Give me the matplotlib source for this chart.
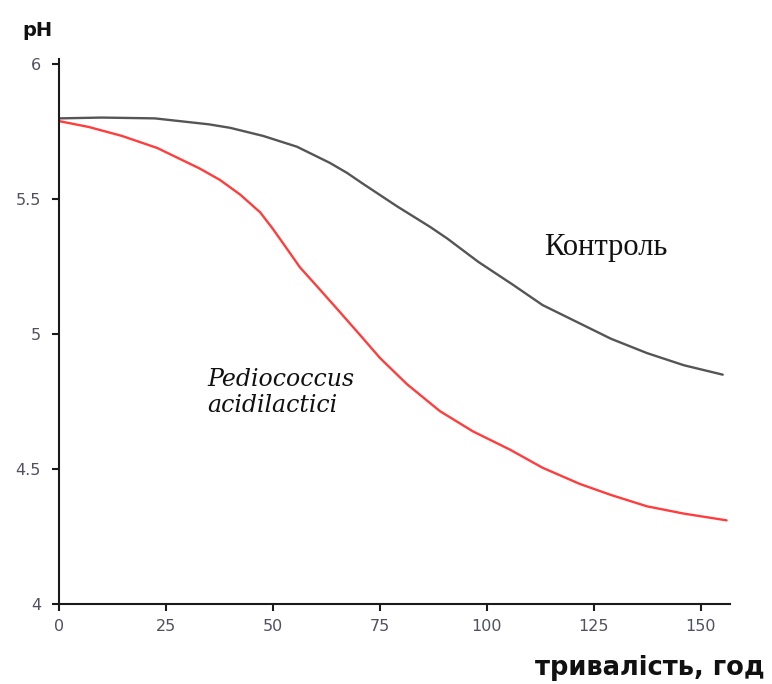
import matplotlib
matplotlib.use("Agg")
import matplotlib.pyplot as plt

# pH over fermentation time (hours)
control_t = [0, 10, 22.4, 35, 40, 47.7, 55.6, 63.3, 67.3, 71, 79, 86.7, 90.7,
             98, 106.1, 113, 121.7, 129, 137.4, 146, 155.1]
control_ph = [5.80, 5.803, 5.80, 5.778, 5.765, 5.735, 5.695, 5.635, 5.598, 5.558,
              5.474, 5.398, 5.355, 5.268, 5.183, 5.108, 5.04, 4.983, 4.93, 4.885, 4.85]

pedio_t = [0, 7, 14.7, 23, 32.9, 37.6, 42.3, 47, 50, 53.3, 56.3, 61, 65.7, 70.3,
           75, 81.3, 89, 96.7, 105.4, 113, 121.7, 129, 137.4, 146, 156]
pedio_ph = [5.79, 5.768, 5.735, 5.69, 5.614, 5.572, 5.518, 5.452, 5.39, 5.316,
            5.248, 5.165, 5.081, 4.998, 4.912, 4.815, 4.715, 4.64, 4.572, 4.505,
            4.445, 4.404, 4.362, 4.335, 4.31]

x_ticks = [0, 25, 50, 75, 100, 125, 150]
y_ticks = [4, 4.5, 5, 5.5, 6]
y_labels = ["4", "4.5", "5", "5.5", "6"]

fig = plt.figure(figsize=(7.72, 6.84), dpi=100)
ax = fig.add_axes([0.0764, 0.117, 0.8692, 0.7967])

ax.plot(control_t, control_ph, color="#555555", lw=1.7,
        solid_capstyle="round", solid_joinstyle="round")
ax.plot(pedio_t, pedio_ph, color="#ff3d3d", lw=1.7,
        solid_capstyle="round", solid_joinstyle="round")

ax.set_xlim(0, 156.8)
ax.set_ylim(4, 6.02)
ax.set_xticks(x_ticks)
ax.set_yticks(y_ticks)
ax.set_yticklabels(y_labels)

for side in ["top", "right"]:
    ax.spines[side].set_visible(False)
for side in ["left", "bottom"]:
    ax.spines[side].set_linewidth(1.5)
    ax.spines[side].set_color("#1a1a1a")

ax.tick_params(direction="out", length=5, width=1.5, color="#1a1a1a",
               labelsize=11.5, labelcolor="#505060", pad=6)
ax.tick_params(axis="y", pad=8)

ax.text(113.4, 5.32, "Контроль", family="Liberation Serif", fontsize=22,
        color="#111111", ha="left", va="center")
ax.text(34.6, 4.785, "Pediococcus\nacidilactici", family="DejaVu Serif",
        style="italic", fontsize=17, color="#111111", ha="left",
        va="center", linespacing=1.15)

fig.text(0.029, 0.955, "pH", fontsize=14, fontweight="bold",
         color="#111111", ha="left", va="center")
fig.text(0.991, 0.0234, "тривалість, год", fontsize=18.5, fontweight="bold",
         color="#111111", ha="right", va="center")

fig.savefig("out.png", dpi=100)
